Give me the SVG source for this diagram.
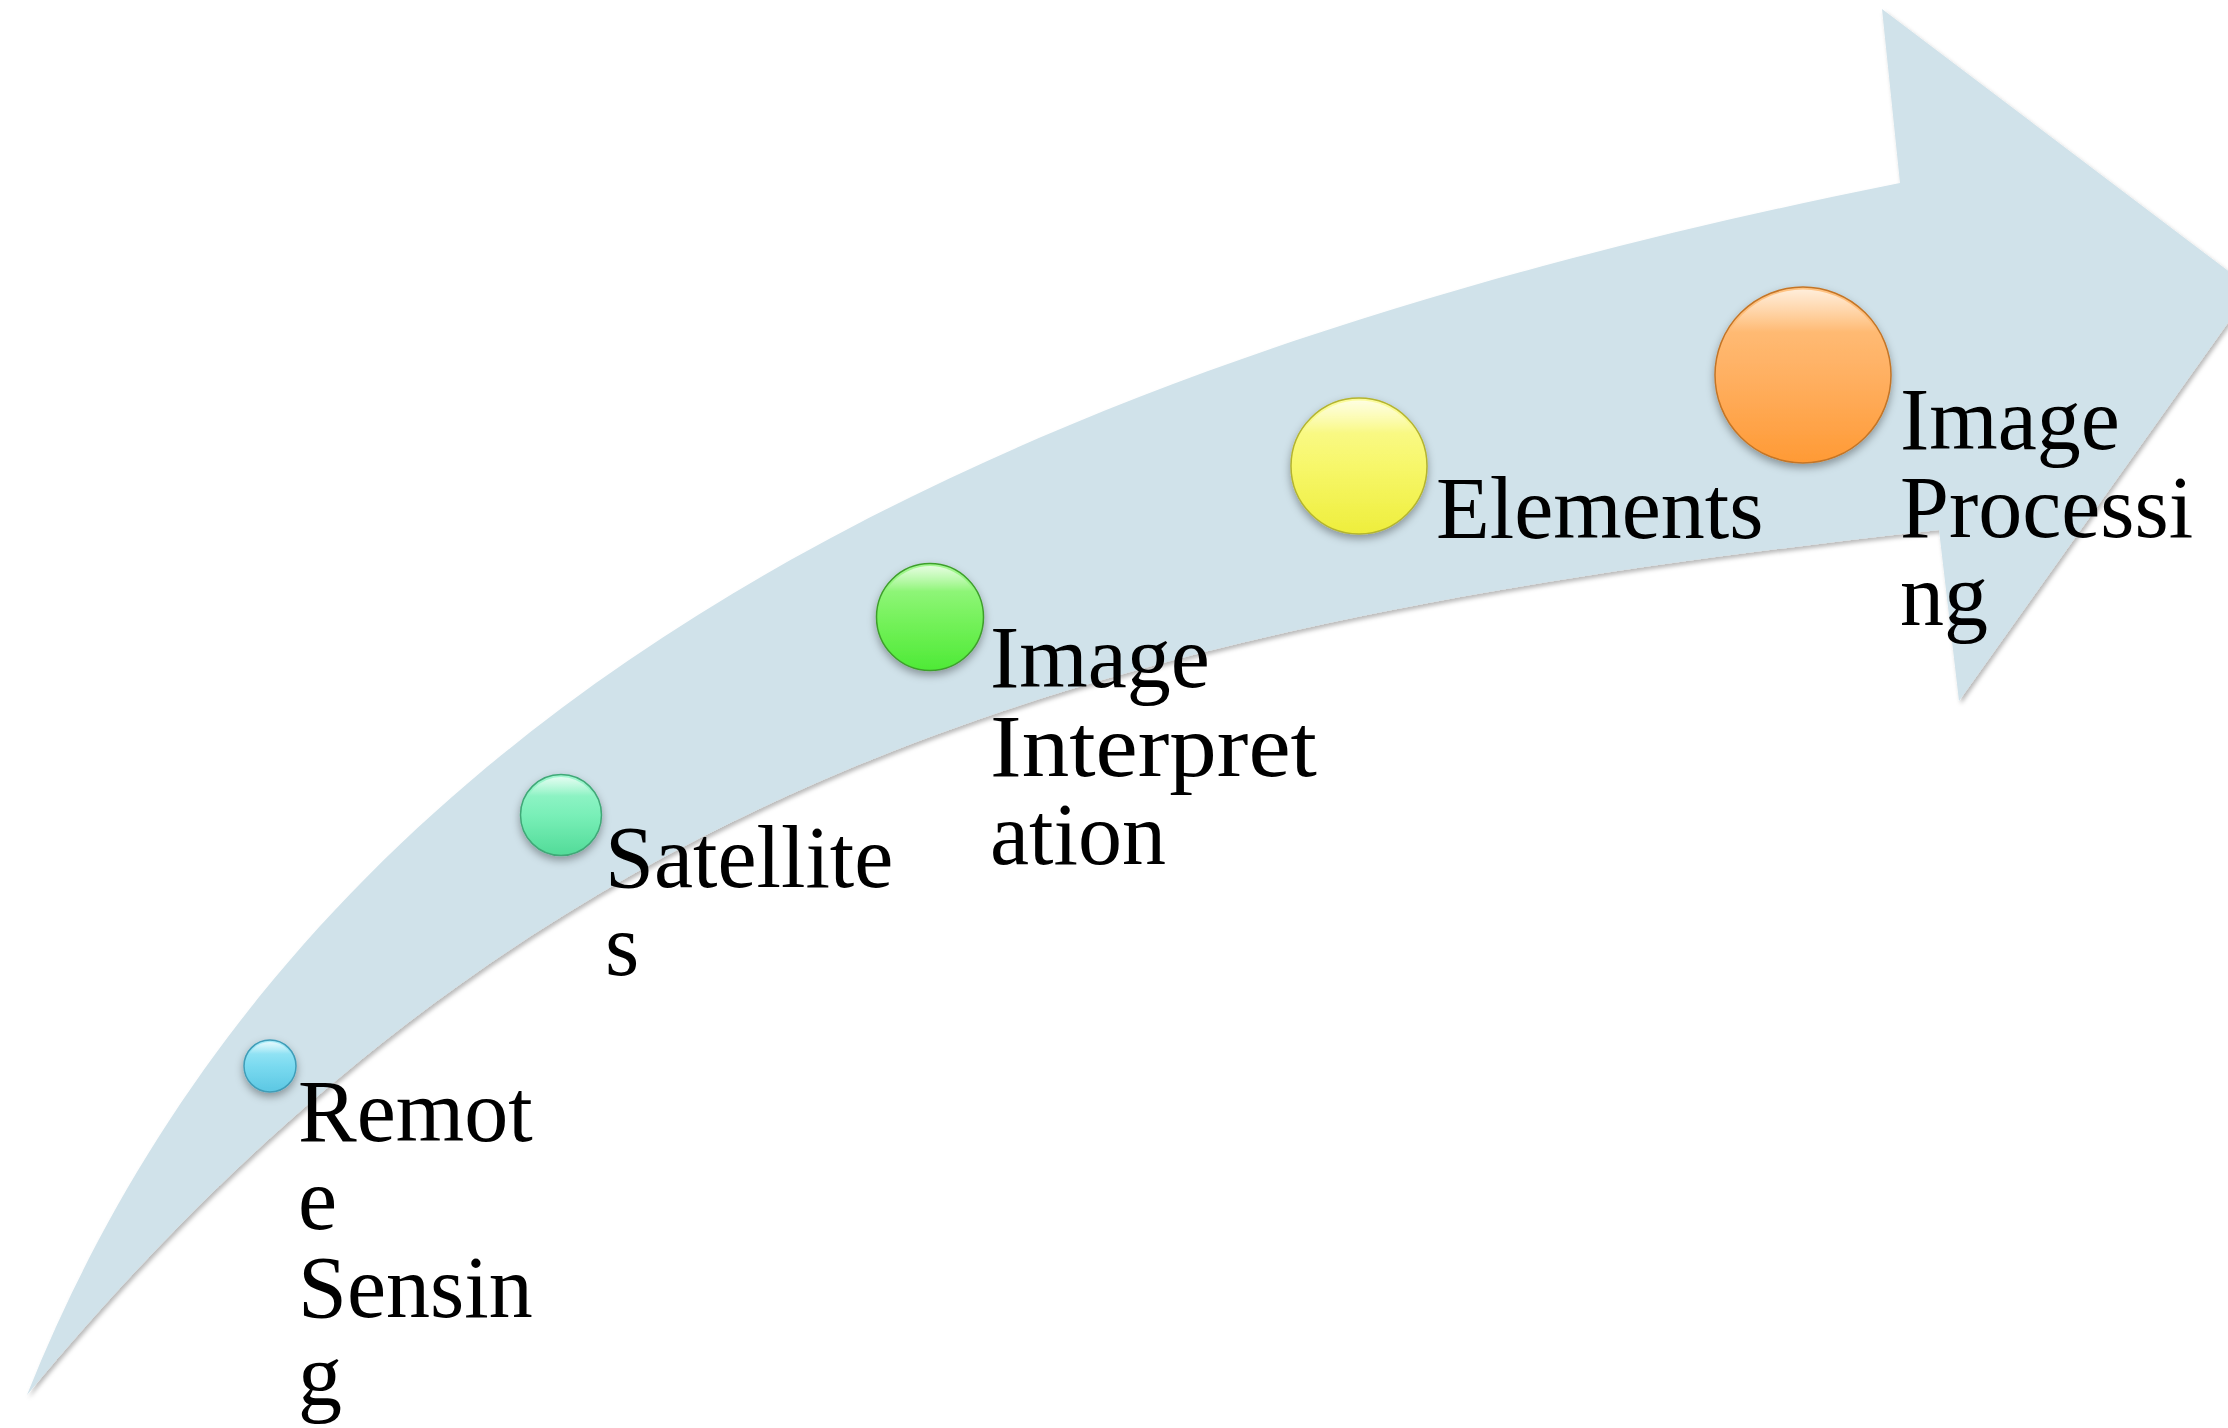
<svg xmlns="http://www.w3.org/2000/svg" width="2228" height="1428" viewBox="0 0 2228 1428">
  <defs>
    <style>
      .lbl { font-family: "Liberation Serif", "Times New Roman", serif; font-size: 88px; fill: #000000; }
      .ball { filter: url(#ballShadow); }
    </style>
    <filter id="arrowShadow" x="-5%" y="-5%" width="110%" height="110%">
      <feDropShadow dx="2" dy="3" stdDeviation="2" flood-color="#000000" flood-opacity="0.28"/>
    </filter>
    <filter id="ballShadow" x="-30%" y="-30%" width="160%" height="170%">
      <feDropShadow dx="0" dy="4" stdDeviation="4" flood-color="#000000" flood-opacity="0.35"/>
    </filter>
    <linearGradient id="gBlue" x1="0" y1="0" x2="0" y2="1">
      <stop offset="0" stop-color="#A9EBF8"/>
      <stop offset="0.5" stop-color="#7ADAF0"/>
      <stop offset="1" stop-color="#5CC7E3"/>
    </linearGradient>
    <linearGradient id="gTeal" x1="0" y1="0" x2="0" y2="1">
      <stop offset="0" stop-color="#A2F7D0"/>
      <stop offset="0.5" stop-color="#79EFB8"/>
      <stop offset="1" stop-color="#52DB98"/>
    </linearGradient>
    <linearGradient id="gGreen" x1="0" y1="0" x2="0" y2="1">
      <stop offset="0" stop-color="#A6F893"/>
      <stop offset="0.5" stop-color="#78F25E"/>
      <stop offset="1" stop-color="#4EEA36"/>
    </linearGradient>
    <linearGradient id="gYellow" x1="0" y1="0" x2="0" y2="1">
      <stop offset="0" stop-color="#FBFB9E"/>
      <stop offset="0.5" stop-color="#F7F76A"/>
      <stop offset="1" stop-color="#EEEE3C"/>
    </linearGradient>
    <linearGradient id="gOrange" x1="0" y1="0" x2="0" y2="1">
      <stop offset="0" stop-color="#FFC484"/>
      <stop offset="0.5" stop-color="#FFB062"/>
      <stop offset="1" stop-color="#FF9A35"/>
    </linearGradient>
    <linearGradient id="gShine" x1="0" y1="0" x2="0" y2="1">
      <stop offset="0" stop-color="#FFFFFF" stop-opacity="0.7"/>
      <stop offset="0.25" stop-color="#FFFFFF" stop-opacity="0"/>
      <stop offset="1" stop-color="#FFFFFF" stop-opacity="0"/>
    </linearGradient>
  </defs>

  <rect width="2228" height="1428" fill="#FFFFFF"/>

  <g id="connectors">
    <path id="arrow" filter="url(#arrowShadow)" fill="#D0E2EA"
      d="M 27 1395 C 305 698, 1000 363, 1900 183 L 1882 9 L 2252 289 L 1959 701 L 1939 530 C 1089 623.5, 537 778, 27 1395 Z"/>
  </g>

  <g id="node-remote-sensing">
    <circle class="ball" cx="270" cy="1066" r="26" fill="url(#gBlue)" stroke="#3F9DB8" stroke-width="1.5"/>
    <circle cx="270" cy="1066" r="24" fill="url(#gShine)"/>
    <text class="lbl" x="298" y="1141">Remot</text>
    <text class="lbl" x="298" y="1229">e</text>
    <text class="lbl" x="298" y="1317">Sensin</text>
    <text class="lbl" x="298" y="1405">g</text>
  </g>

  <g id="node-satellites">
    <circle class="ball" cx="561" cy="815" r="40.5" fill="url(#gTeal)" stroke="#3FA877" stroke-width="1.5"/>
    <circle cx="561" cy="815" r="38" fill="url(#gShine)"/>
    <text class="lbl" x="605" y="887">Satellite</text>
    <text class="lbl" x="605" y="975">s</text>
  </g>

  <g id="node-image-interpretation">
    <circle class="ball" cx="930" cy="617" r="53.5" fill="url(#gGreen)" stroke="#3E9F2C" stroke-width="1.5"/>
    <circle cx="930" cy="617" r="51" fill="url(#gShine)"/>
    <text class="lbl" x="990" y="687">Image</text>
    <text class="lbl" x="990" y="776" textLength="327" lengthAdjust="spacingAndGlyphs">Interpret</text>
    <text class="lbl" x="990" y="864">ation</text>
  </g>

  <g id="node-elements">
    <circle class="ball" cx="1359" cy="466" r="68" fill="url(#gYellow)" stroke="#B4B42E" stroke-width="1.5"/>
    <circle cx="1359" cy="466" r="65.5" fill="url(#gShine)"/>
    <text class="lbl" x="1436" y="538">Elements</text>
  </g>

  <g id="node-image-processing">
    <circle class="ball" cx="1803" cy="375" r="88" fill="url(#gOrange)" stroke="#C47526" stroke-width="1.5"/>
    <circle cx="1803" cy="375" r="85.5" fill="url(#gShine)"/>
    <text class="lbl" x="1900" y="449">Image</text>
    <text class="lbl" x="1900" y="537">Processi</text>
    <text class="lbl" x="1900" y="625">ng</text>
  </g>
</svg>
